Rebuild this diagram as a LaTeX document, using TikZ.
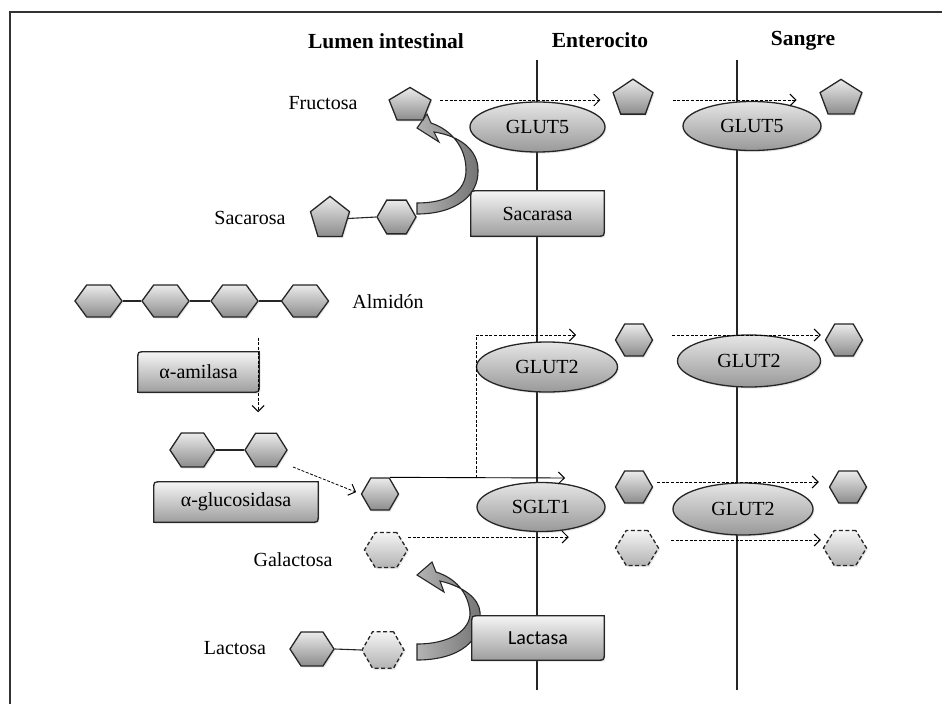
\documentclass[tikz,border=0pt]{standalone}
\usepackage{fontspec}
\setmainfont{Liberation Serif}
\newfontfamily\sansenz{Carlito}
\usetikzlibrary{shapes.geometric,arrows.meta,calc,shadows}
\pgfdeclarelayer{membrane}
\pgfdeclarelayer{enzymes}
\pgfsetlayers{membrane,enzymes,main}

\begin{document}
\begin{tikzpicture}[x=1pt,y=-1pt,
  every node/.style={font=\fontsize{20}{22}\selectfont, inner sep=0pt},
  head/.style={font=\bfseries\fontsize{21.5}{23}\selectfont},
  softshadow/.style={drop shadow={opacity=0.18, shadow xshift=1.3pt, shadow yshift=-1.6pt}},
  sugar/.style={draw=black!85, line width=1.3pt, top color=black!8, bottom color=black!45, softshadow},
  hexa/.style={sugar, regular polygon, regular polygon sides=6, minimum size=#1},
  galhexa/.style={hexa=#1, top color=black!4, bottom color=black!30, dash pattern=on 4pt off 2.5pt},
  penta/.style={sugar, regular polygon, regular polygon sides=5, minimum size=#1},
  carrier/.style={ellipse, draw=black!85, line width=1.3pt, top color=black!10, bottom color=black!40, softshadow, font=\fontsize{20}{22}\selectfont},
  enzyme/.style={},
  enzymebox/.style={draw=black!85, line width=1.3pt, top color=black!4, bottom color=black!38, softshadow},
  bentarrow/.style={draw=black!85, line width=1.1pt, left color=black!30, right color=black!55},
  bond/.style={line width=1.1pt, black!85},
  flow/.style={line width=0.8pt, dash pattern=on 3pt off 1.6pt, -{Straight Barb[length=6pt,width=12pt,line width=1pt]}},
  solidflow/.style={line width=0.9pt, -{Straight Barb[length=6pt,width=12pt,line width=1pt]}},
  membraneline/.style={line width=1.2pt, black!85},
  frameline/.style={line width=1.6pt, black!80}]

\useasboundingbox (0,0) rectangle (942,704);

% outer frame
\draw[frameline] (942,12) -| (10,704);

% column headings
\node[head] (hLumen) at (386,41) {Lumen intestinal};
\node[head] (hEnt)   at (600,40) {Enterocito};
\node[head] (hSan)   at (803,41) {Sangre};

% membranes
\begin{pgfonlayer}{membrane}
  \draw[membraneline] (537,60) -- (537,690);
  \draw[membraneline] (737,60) -- (737,690);
\end{pgfonlayer}

% transporters
\node[carrier, minimum width=135pt, minimum height=50pt] (glut5a) at (537.5,127) {GLUT5};
\node[carrier, minimum width=138pt, minimum height=49pt] (glut5b) at (752,126) {GLUT5};
\node[carrier, minimum width=141pt, minimum height=50pt] (glut2a) at (547,367) {GLUT2};
\node[carrier, minimum width=143pt, minimum height=52pt] (glut2b) at (749,361) {GLUT2};
\node[carrier, minimum width=128pt, minimum height=49pt] (sglt1)  at (541,507) {SGLT1};
\node[carrier, minimum width=140pt, minimum height=52pt] (glut2c) at (743,509) {GLUT2};

% enzymes (text nodes; outlines on the enzyme layer)
\node[enzyme, minimum width=133pt, minimum height=45pt] (sacarasa)    at (537.5,213.5) {Sacarasa};
\node[enzyme, minimum width=121pt, minimum height=40pt] (amilasa)     at (198.5,372) {α-amilasa};
\node[enzyme, minimum width=164pt, minimum height=40pt] (glucosidasa) at (236,502) {α-glucosidasa};
\node[enzyme, minimum width=132pt, minimum height=44pt] (lactasa)     at (538,638) {\sansenz Lactasa};

\begin{pgfonlayer}{enzymes}
  % curved block arrows of the hydrolysis reactions
  \draw[bentarrow] (417,214) .. controls (455,214) and (479,196) .. (478,170)
    .. controls (478,150) and (460,136) .. (434,132) -- (439,142) -- (417,128) -- (427,114) -- (431,123)
    .. controls (452,130) and (466,148) .. (466,170)
    .. controls (466,192) and (447,203) .. (417,203) -- cycle;
  \draw[bentarrow] (417,660) .. controls (460,660) and (483,640) .. (480,612)
    .. controls (479,598) and (462,586) .. (440,581) -- (444,592) -- (417,575) -- (432,562) -- (436,572)
    .. controls (455,578) and (468,592) .. (470,612)
    .. controls (471,630) and (450,644) .. (417,644) -- cycle;
  % enzyme boxes with two rounded diagonal corners
  \foreach \e in {sacarasa,amilasa,glucosidasa,lactasa}{
    \draw[enzymebox] ($(\e.north west)+(0,7)$) -- (\e.south west) -- ($(\e.south east)+(-7,0)$)
      .. controls (\e.south east) .. ($(\e.south east)+(0,-7)$) -- (\e.north east)
      -- ($(\e.north west)+(7,0)$) .. controls (\e.north west) .. ($(\e.north west)+(0,7)$) -- cycle;
  }
\end{pgfonlayer}

% fructose
\node[penta=44, yscale=0.82] (fru1) at (410,105.5) {};
\node[penta=42, yscale=0.92] (fru2) at (633,98.5) {};
\node[penta=44, yscale=0.87] (fru3) at (841,98.5) {};

% sucrose
\node[penta=41, yscale=1.08] (scPen) at (330,218.5) {};
\node[hexa=39] (scHex) at (396.5,217) {};
\draw[bond] (scPen.east) -- (scHex.west);

% starch
\node[hexa=47, yscale=0.79] (am1) at (98.5,301) {};
\node[hexa=47, yscale=0.79] (am2) at (165.5,301) {};
\node[hexa=47, yscale=0.79] (am3) at (234.5,301) {};
\node[hexa=47, yscale=0.79] (am4) at (305,301) {};
\draw[bond] (am1.east) -- (am2.west);
\draw[bond] (am2.east) -- (am3.west);
\draw[bond] (am3.east) -- (am4.west);

% disaccharide
\node[hexa=45, yscale=0.87] (di1) at (192.5,450) {};
\node[hexa=42, yscale=0.92] (di2) at (266,450) {};
\draw[bond] (di1.east) -- (di2.west);

% glucose
\node[hexa=37] (glc1) at (380,494) {};
\node[hexa=37] (glc2) at (634,340) {};
\node[hexa=37] (glc3) at (844,340) {};
\node[hexa=37] (glc4) at (634,487) {};
\node[hexa=37] (glc5) at (848,487) {};

% galactose
\node[galhexa=43, yscale=0.94] (gal1) at (386,550) {};
\node[galhexa=43, yscale=0.94] (gal2) at (637,548) {};
\node[galhexa=43, yscale=0.94] (gal3) at (845,548) {};

% lactose
\node[hexa=44, yscale=0.89] (lcGlc) at (312,649) {};
\node[galhexa=42] (lcGal) at (383,650) {};
\draw[bond] (lcGlc.east) -- (lcGal.west);

% labels
\node (lFru) at (323,103) {Fructosa};
\node (lSac) at (250,218) {Sacarosa};
\node (lAlm) at (388,302) {Almidón};
\node (lGal) at (293,560) {Galactosa};
\node (lLac) at (235,648) {Lactosa};

% transport lanes
\coordinate (laneFru)  at (0,100);
\coordinate (laneG2)   at (0,335);
\coordinate (laneG4)   at (0,482);
\coordinate (laneGal1) at (0,537);
\coordinate (laneGal2) at (0,540);
\coordinate (split)    at (476,478);
\coordinate (sgltIn)   at (565,478);
\coordinate (glutIn)   at (576,335);

\draw[flow, shorten <=11pt, shorten >=14pt] (fru1.east |- laneFru) -- (fru2.west |- laneFru);
\draw[flow, shorten <=21pt, shorten >=25pt] (fru2.east |- laneFru) -- (fru3.west |- laneFru);
\draw[flow, shorten <=19pt, shorten >=4pt] (glc2.east |- laneG2) -- (glc3.west |- laneG2);
\draw[flow, shorten <=4pt, shorten >=10pt] (glc4.east |- laneG4) -- (glc5.west |- laneG4);
\draw[flow, shorten >=46pt] (gal1.east |- laneGal1) -- (gal2.west |- laneGal1);
\draw[flow, shorten <=12pt, shorten >=2pt] (gal2.east |- laneGal2) -- (gal3.west |- laneGal2);

% glucose uptake: SGLT1 and apical GLUT2
\draw[solidflow] ([xshift=10pt]glc1.north) -- (sgltIn);
\draw[flow] (split) |- (glutIn);

% digestion steps
\draw[flow] ([shift={(-1,-14)}]amilasa.north east) -- ([shift={(-1,20)}]amilasa.south east);
\draw[flow, shorten >=5pt] ([shift={(27,17)}]di2.center) -- (glc1.west);

\end{tikzpicture}
\end{document}
